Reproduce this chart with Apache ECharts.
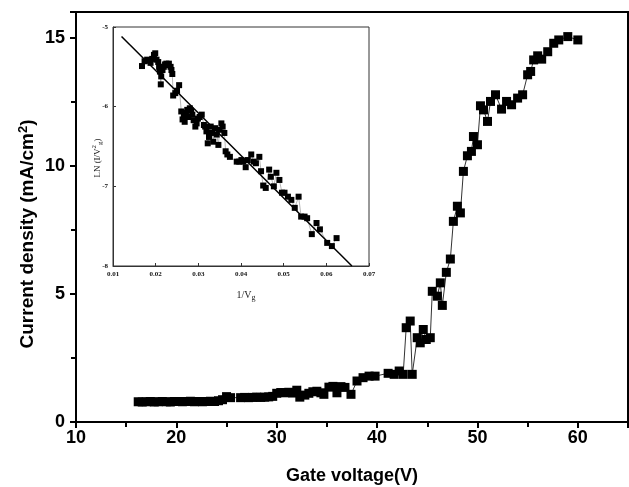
<!DOCTYPE html>
<html><head><meta charset="utf-8">
<script src="https://cdn.jsdelivr.net/npm/echarts@6/dist/echarts.min.js"></script>
<style>html,body{margin:0;padding:0;background:#fff}#c{width:629px;height:487px}</style>
</head><body><div id="c"></div>
<script>
// Main plot: gate voltage (V) vs current density (mA/cm^2)
const gateV = [16.2,16.6,17.0,17.4,17.8,18.2,18.6,19.0,19.4,19.8,20.2,20.6,21.0,21.4,21.8,22.2,22.6,23.0,23.4,23.8,24.2,24.6,25.0,25.4,
  26.4,26.8,27.2,27.6,28.0,28.4,28.8,29.2,29.6,30.0,30.4,30.8,31.2,31.6,32.0,32.3,32.8,33.2,33.6,34.0,34.4,34.7,35.2,35.6,36.0,36.4,36.8,37.4,
  38.0,38.6,39.2,39.8,41.1,41.7,42.2,42.6,42.9,43.3,43.5,44.0,44.3,44.6,44.9,45.3,45.5,46.0,46.3,46.5,46.9,47.3,47.6,48.0,48.3,48.6,49.0,49.4,
  49.6,50.0,50.3,50.6,51.0,51.3,51.8,52.4,52.9,53.4,54.0,54.5,55.0,55.3,55.6,56.0,56.4,57.0,57.6,58.1,59.0,60.0];
const currentDensity = [0.79,0.78,0.79,0.80,0.78,0.79,0.80,0.79,0.78,0.80,0.80,0.79,0.80,0.81,0.79,0.80,0.79,0.80,0.81,0.80,0.83,0.87,0.99,0.95,
  0.95,0.96,0.95,0.96,0.97,0.96,0.97,0.98,1.00,1.12,1.15,1.14,1.16,1.13,1.24,0.97,1.05,1.12,1.18,1.20,1.14,1.08,1.36,1.39,1.14,1.38,1.35,1.08,
  1.60,1.73,1.79,1.79,1.90,1.86,1.99,1.86,3.68,3.94,1.86,3.29,3.09,3.61,3.22,3.29,5.10,4.91,5.43,4.55,5.84,6.36,7.83,8.42,8.16,9.78,10.39,10.56,
  11.14,10.82,12.34,12.18,11.73,12.51,12.77,12.21,12.51,12.38,12.64,12.77,13.55,13.68,14.13,14.29,14.16,14.45,14.78,14.91,15.04,14.91];

// Inset: 1/Vg vs LN(I/Vg^2)
const invVg = [0.0168,0.0174,0.0180,0.0185,0.0188,0.0192,0.0196,0.0199,0.0202,0.0206,0.0208,0.0210,0.0212,0.0213,0.0216,0.0219,0.0222,0.0225,
  0.0228,0.0231,0.0235,0.0237,0.0239,0.0241,0.0246,0.0250,0.0255,0.0260,0.0263,0.0266,0.0268,0.0271,0.0274,0.0277,0.0280,0.0283,0.0286,0.0289,
  0.0293,0.0296,0.0299,0.0303,0.0308,0.0313,0.0316,0.0319,0.0322,0.0325,0.0329,0.0332,0.0335,0.0339,0.0343,0.0347,0.0350,0.0354,0.0357,0.0361,
  0.0364,0.0368,0.0374,0.0390,0.0396,0.0401,0.0405,0.0411,0.0416,0.0424,0.0430,0.0435,0.0443,0.0447,0.0452,0.0458,0.0466,0.0470,0.0477,0.0483,
  0.0490,0.0496,0.0502,0.0510,0.0518,0.0526,0.0535,0.0541,0.0549,0.0555,0.0566,0.0577,0.0585,0.0602,0.0613,0.0624];
const lnIV2 = [-5.49,-5.43,-5.41,-5.42,-5.45,-5.40,-5.35,-5.33,-5.41,-5.44,-5.50,-5.56,-5.72,-5.62,-5.54,-5.50,-5.47,-5.46,
  -5.48,-5.46,-5.50,-5.54,-5.59,-5.86,-5.83,-5.80,-5.73,-6.06,-6.16,-6.13,-6.19,-6.08,-6.04,-6.13,-6.02,-6.05,-6.10,-6.17,
  -6.25,-6.21,-6.15,-6.13,-6.10,-6.23,-6.25,-6.31,-6.46,-6.38,-6.25,-6.33,-6.44,-6.27,-6.35,-6.48,-6.29,-6.21,-6.25,-6.33,
  -6.56,-6.60,-6.63,-6.69,-6.69,-6.67,-6.69,-6.76,-6.67,-6.60,-6.69,-6.71,-6.63,-6.81,-6.99,-7.02,-6.79,-6.88,-7.00,-6.83,
  -6.92,-7.08,-7.08,-7.13,-7.17,-7.27,-7.13,-7.38,-7.38,-7.40,-7.60,-7.46,-7.54,-7.71,-7.75,-7.65];
// Linear fit in inset
const fitX = [0.012, 0.066];
const fitY = [-5.12, -8.0];

const chart = echarts.init(document.getElementById('c'), null, {renderer: 'canvas'});
const sans = 'Liberation Sans, Arial, sans-serif';
const serif = 'Liberation Serif, Times New Roman, serif';
const mainAxisLabel = {fontFamily: sans, fontWeight: 'bold', fontSize: 18, color: '#000'};
const inLabel = {fontFamily: serif, fontWeight: 'bold', fontSize: 7, color: '#111'};

chart.setOption({
  animation: false,
  backgroundColor: '#fff',
  grid: [
    {left: 76, top: 12, right: 1, bottom: 65, show: true, borderColor: '#000', borderWidth: 2, containLabel: false},
    {left: 113, top: 27, width: 256, height: 239, show: true, borderColor: '#333', borderWidth: 1, backgroundColor: '#fff', containLabel: false}
  ],
  xAxis: [
    {gridIndex: 0, type: 'value', min: 10, max: 65, interval: 10,
     axisLine: {lineStyle: {color: '#000', width: 2}},
     axisTick: {show: true, inside: false, length: 6, lineStyle: {color: '#000', width: 2}},
     minorTick: {show: true, splitNumber: 2, length: 5, lineStyle: {color: '#000', width: 2}},
     splitLine: {show: false},
     axisLabel: Object.assign({margin: 7, showMaxLabel: false}, mainAxisLabel)},
    {gridIndex: 1, type: 'value', min: 0.01, max: 0.07, interval: 0.01,
     axisLine: {lineStyle: {color: '#333', width: 1}},
     axisTick: {show: true, inside: true, length: 3, lineStyle: {color: '#333', width: 1}},
     splitLine: {show: false},
     axisLabel: Object.assign({margin: 5, formatter: v => v.toFixed(2)}, inLabel)}
  ],
  yAxis: [
    {gridIndex: 0, type: 'value', min: 0, max: 16, interval: 5,
     axisLine: {lineStyle: {color: '#000', width: 2}},
     axisTick: {show: true, inside: false, length: 6, lineStyle: {color: '#000', width: 2}},
     minorTick: {show: true, splitNumber: 2, length: 5, lineStyle: {color: '#000', width: 2}},
     splitLine: {show: false},
     axisLabel: Object.assign({margin: 11, showMaxLabel: false}, mainAxisLabel)},
    {gridIndex: 1, type: 'value', min: -8, max: -5, interval: 1,
     axisLine: {lineStyle: {color: '#333', width: 1}},
     axisTick: {show: true, inside: true, length: 3, lineStyle: {color: '#333', width: 1}},
     splitLine: {show: false},
     axisLabel: Object.assign({margin: 5}, inLabel)}
  ],
  series: [
    {type: 'line', xAxisIndex: 0, yAxisIndex: 0,
     data: gateV.map((v, i) => [v, currentDensity[i]]),
     symbol: 'rect', symbolSize: 9, showAllSymbol: true,
     itemStyle: {color: '#000'}, lineStyle: {color: '#333', width: 1}},
    {type: 'line', xAxisIndex: 1, yAxisIndex: 1,
     data: invVg.map((v, i) => [v, lnIV2[i]]),
     symbol: 'rect', symbolSize: 6, showAllSymbol: true,
     itemStyle: {color: '#000'}, lineStyle: {color: '#999', width: 0.7}},
    {type: 'line', xAxisIndex: 1, yAxisIndex: 1,
     data: fitX.map((v, i) => [v, fitY[i]]),
     showSymbol: false, lineStyle: {color: '#000', width: 1.5}}
  ],
  graphic: [
    {type: 'text', x: 28, y: 234, rotation: Math.PI / 2,
     style: {text: '{a|Current density (mA/cm}{s|2}{a|)}', align: 'center', verticalAlign: 'middle',
       rich: {a: {fontFamily: sans, fontWeight: 'bold', fontSize: 19, fill: '#000'},
              s: {fontFamily: sans, fontWeight: 'bold', fontSize: 13, fill: '#000', padding: [0, 0, 10, 0]}}}},
    {type: 'text', x: 352, y: 476,
     style: {text: 'Gate voltage(V)', align: 'center', verticalAlign: 'middle',
       fontFamily: sans, fontWeight: 'bold', fontSize: 18, fill: '#000'}},
    {type: 'text', x: 246, y: 295,
     style: {text: '{a|1/V}{b|g}', align: 'center', verticalAlign: 'middle',
       rich: {a: {fontFamily: serif, fontSize: 10, fill: '#222'},
              b: {fontFamily: serif, fontSize: 8, fill: '#222', padding: [6, 0, 0, 0]}}}},
    {type: 'text', x: 98, y: 158, rotation: Math.PI / 2,
     style: {text: '{a|LN (I/V}{s|2}{b|g}{a|)}', align: 'center', verticalAlign: 'middle',
       rich: {a: {fontFamily: serif, fontSize: 9, fill: '#222'},
              s: {fontFamily: serif, fontSize: 7, fill: '#222', padding: [0, 0, 7, 0]},
              b: {fontFamily: serif, fontSize: 7, fill: '#222', padding: [5, 0, 0, 0]}}}}
  ]
});
</script>
</body></html>
